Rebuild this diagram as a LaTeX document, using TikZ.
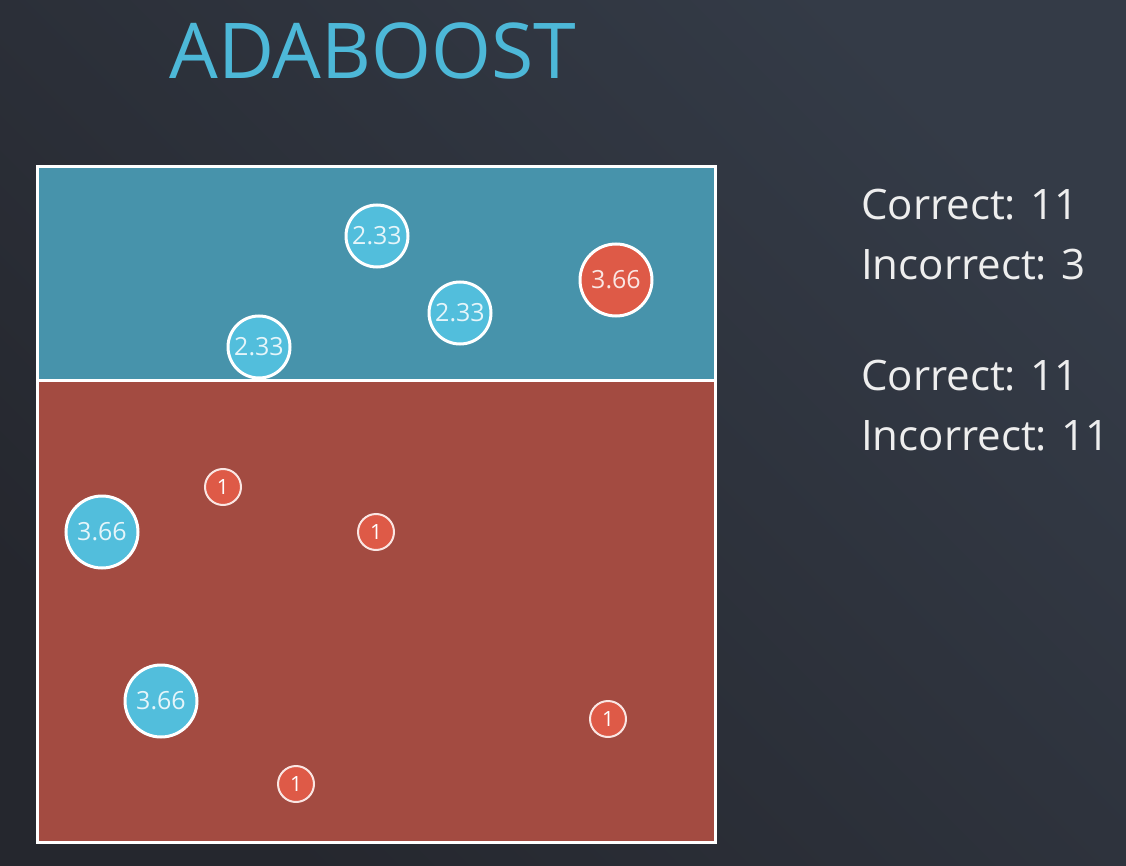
\documentclass[tikz,border=0pt]{standalone}
\usepackage{fontspec}
\setmainfont{Open Sans}
\definecolor{bgA}{HTML}{25272E}
\definecolor{bgB}{HTML}{343B47}
\definecolor{topreg}{HTML}{4793AB}
\definecolor{botreg}{HTML}{A34B41}
\definecolor{bluept}{HTML}{52BEDC}
\definecolor{redpt}{HTML}{DE5A47}
\definecolor{titlec}{HTML}{4DB8D8}
\definecolor{txtc}{HTML}{EEEEEE}
\begin{document}
\begin{tikzpicture}[x=1pt,y=-1pt,
  bigpt/.style={circle,draw=white,line width=3pt,minimum size=72pt,inner sep=0pt,text=white!85!bluept,font=\fontsize{25}{25}\selectfont},
  midpt/.style={circle,draw=white,line width=3pt,minimum size=62pt,inner sep=0pt,text=white!85!bluept,font=\fontsize{25}{25}\selectfont},
  smallpt/.style={circle,draw=white!85!redpt,line width=2pt,minimum size=36pt,inner sep=0pt,fill=redpt,text=white,font=\fontsize{21}{21}\selectfont},
  infotext/.style={anchor=base west,inner sep=0pt,text=txtc,font=\fontsize{42}{42}\selectfont}]
\useasboundingbox (0,0) rectangle (1126,866);
\shade[left color=bgA,right color=bgB,shading angle=135] (0,0) rectangle (1126,866);
\fill[topreg] (37,167) rectangle (715,380);
\fill[botreg] (37,380) rectangle (715,842);
\node[midpt,fill=bluept] (p1) at (377,236) {2.33};
\node[midpt,fill=bluept] (p2) at (460,313) {2.33};
\node[midpt,fill=bluept] (p3) at (259,347) {2.33};
\node[bigpt,fill=redpt,text=white!85!redpt] (p4) at (616,280) {3.66};
\node[bigpt,fill=bluept] (p5) at (102,532) {3.66};
\node[bigpt,fill=bluept] (p6) at (161,701) {3.66};
\node[smallpt] (q1) at (223,487) {1};
\node[smallpt] (q2) at (376,532) {1};
\node[smallpt] (q3) at (608,719) {1};
\node[smallpt] (q4) at (296,784) {1};
\draw[white,line width=3pt] (37,380) -- (715,380);
\draw[white,line width=3pt] (37,167) rectangle (715,842);
\node[anchor=base,inner sep=0pt,text=titlec,font=\fontsize{77}{77}\selectfont] (title) at (373,79) {ADABOOST};
\node[infotext] (c1) at (861,220) {Correct: 11};
\node[infotext] (i1) at (861,280) {Incorrect: 3};
\node[infotext] (c2) at (861,390) {Correct: 11};
\node[infotext] (i2) at (861,450) {Incorrect: 11};
\end{tikzpicture}
\end{document}
